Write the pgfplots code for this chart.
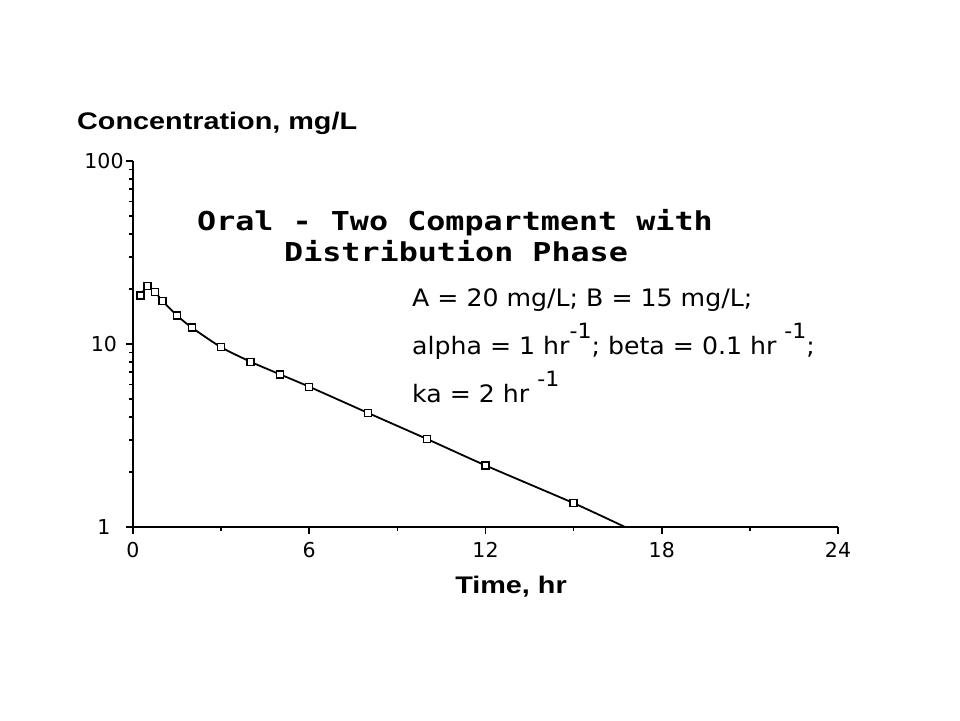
\documentclass[border=0pt]{standalone}
\usepackage{fontspec}
\setmainfont{DejaVu Sans}
\newfontfamily\labfont{Liberation Sans}
\newfontfamily\titlefont{DejaVu Sans Mono}
\usepackage{graphicx}
\usepackage{pgfplots}
\pgfplotsset{compat=1.18}

\newcommand\supx[1]{\raisebox{16pt}{\fontsize{21}{21}\selectfont #1}}
\newcommand\partext[1]{\scalebox{1.05}[1]{\fontsize{24}{24}\selectfont #1}}

\begin{document}
\begin{tikzpicture}[x=1pt,y=1pt]
\path[use as bounding box, fill=white] (0,0) rectangle (960,720);
\begin{axis}[
  at={(133pt,193pt)}, anchor=south west,
  scale only axis, width=705pt, height=366pt,
  ymode=log, xmin=0, xmax=24, ymin=1, ymax=100,
  axis lines=left, axis line style={-, line width=2.3pt},
  xtick={0,6,12,18,24}, xticklabels={0,6,12,18,24},
  minor xtick={3,9,15,21},
  ytick={1,10,100}, yticklabels={1,10,100},
  tick align=outside, major tick length=7pt, minor tick length=4pt,
  every tick/.style={line width=1.7pt, black},
  ticklabel style={font=\fontsize{20.5}{20.5}\selectfont},
  xticklabel style={anchor=center, yshift=-16pt},
  yticklabel style={anchor=center, xshift=-22pt},
  clip=false,
]
% fitted curve
\addplot[black, line width=1.8pt, smooth, tension=0.4] coordinates {
  (0.25,18.4) (0.5,20.7) (0.75,19.3) (1,17.2) (1.5,14.3) (2,12.3)
  (3,9.6) (4,8.0) (5,6.83) (6,5.84) (8,4.2) (10,3.03) (12,2.17)
  (15,1.35) (16.75,1.0)
};
% observed concentrations
\addplot[only marks, mark=square*, mark size=3.5pt,
  mark options={fill=white, draw=black, line width=1.4pt}] coordinates {
  (0.25,18.4) (0.5,20.7) (0.75,19.3) (1,17.2) (1.5,14.3) (2,12.3)
  (3,9.6) (4,8.0) (5,6.83) (6,5.84) (8,4.2) (10,3.03) (12,2.17)
  (15,1.35)
};
\end{axis}

\node[anchor=base west, inner sep=0] at (77,590)
  {\scalebox{1.2}[1]{\labfont\bfseries\fontsize{24}{24}\selectfont Concentration, mg/L}};
\node[anchor=base, inner sep=0] at (511,127)
  {\scalebox{1.2}[1]{\labfont\bfseries\fontsize{24}{24}\selectfont Time, hr}};

\node[anchor=base west, inner sep=0] at (197,489)
  {\scalebox{1.22}[1]{\titlefont\bfseries\fontsize{26}{26}\selectfont Oral - Two Compartment with}};
\node[anchor=base west, inner sep=0] at (284,458)
  {\scalebox{1.22}[1]{\titlefont\bfseries\fontsize{26}{26}\selectfont Distribution Phase}};

\node[anchor=base west, inner sep=0] at (412,413)
  {\partext{A = 20 mg/L; B = 15 mg/L;}};
\node[anchor=base west, inner sep=0] at (412,365)
  {\partext{alpha = 1 hr\supx{-1}; beta = 0.1 hr \supx{-1};}};
\node[anchor=base west, inner sep=0] at (412,317)
  {\partext{ka = 2 hr \supx{-1}}};
\end{tikzpicture}
\end{document}
